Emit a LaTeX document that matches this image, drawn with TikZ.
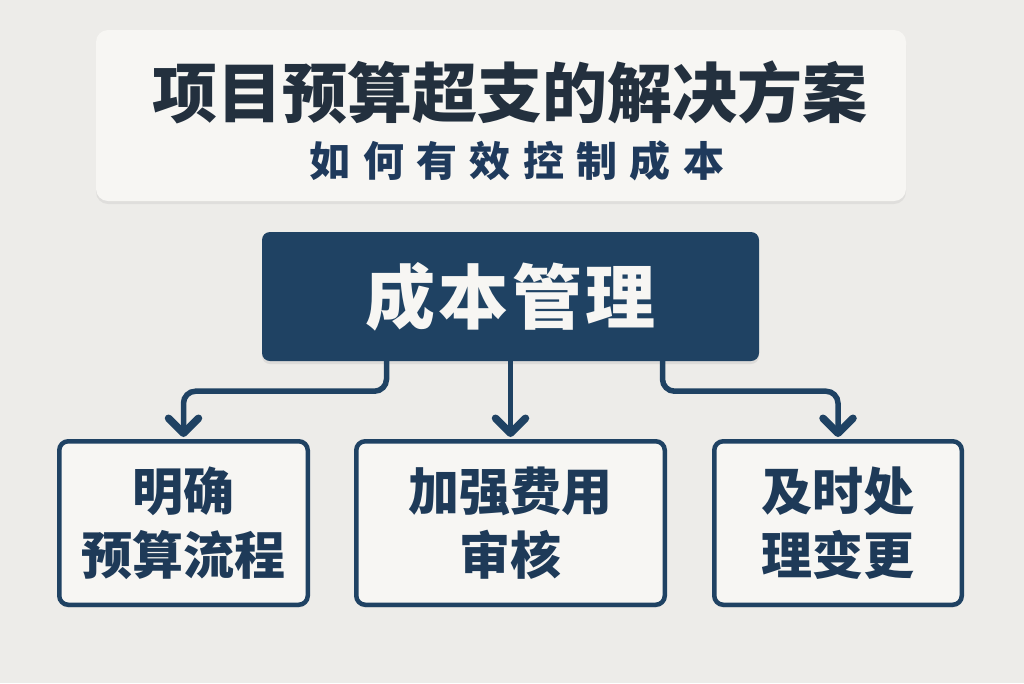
\documentclass[tikz,border=0pt]{standalone}
\usepackage{fontspec}
\setmainfont{Noto Sans CJK SC}
\newfontfamily\cjkspaced[LetterSpace=30]{Noto Sans CJK SC}
\newfontfamily\cjkwide[LetterSpace=5]{Noto Sans CJK SC}
\usetikzlibrary{arrows.meta,shadows}
\definecolor{bgcol}{HTML}{EDECE9}
\definecolor{boxcol}{HTML}{F7F6F3}
\definecolor{navy}{HTML}{1F4263}
\definecolor{titlecol}{HTML}{23303E}
\definecolor{subcol}{HTML}{1F3A5C}
\definecolor{itemcol}{HTML}{1E3A58}
\tikzset{
  titlebox/.style={fill=boxcol, rounded corners=12pt, minimum width=810pt, minimum height=171pt,
    drop shadow={opacity=0.12, shadow xshift=0pt, shadow yshift=-3pt}},
  mainbox/.style={fill=navy, rounded corners=8pt, minimum width=497pt, minimum height=129pt,
    text=boxcol, font=\cjkwide\fontsize{70}{74}\selectfont\bfseries,
    drop shadow={opacity=0.15, shadow xshift=0pt, shadow yshift=-3pt}},
  itembox/.style={fill=boxcol, draw=navy, line width=4.5pt, rounded corners=9pt,
    minimum height=163.5pt, align=center, text=itemcol,
    font=\fontsize{51}{64}\selectfont\bfseries,
    drop shadow={opacity=0.12, shadow xshift=0pt, shadow yshift=-3pt}},
  conn/.style={draw=navy, line width=5.5pt, rounded corners=12pt, line cap=round,
    -{Straight Barb[length=15pt,width=30pt,line width=7.5pt,line cap=round,line join=round]},
    shorten >=2pt},
}
\begin{document}
\begin{tikzpicture}[x=1pt,y=-1pt]
\useasboundingbox [fill=bgcol] (0,0) rectangle (1024,683);
% title
\node [titlebox] (title) at (501,115.5) {};
\node [text=titlecol, font=\fontsize{65}{70}\selectfont\bfseries] (head) at (510,92) {项目预算超支的解决方案};
\node [text=subcol, font=\cjkspaced\fontsize{41}{46}\selectfont\bfseries] (sub) at (517,161) {如何有效控制成本};
% main
\node [mainbox] (main) at (510.5,296.5) {成本管理};
% items
\node [itembox, minimum width=248.5pt] (plan) at (183.5,523) {明确\\预算流程};
\node [itembox, minimum width=308.5pt] (audit) at (510.5,523) {加强费用\\审核};
\node [itembox, minimum width=247.5pt] (change) at (838,523) {及时处\\理变更};
% connectors
\draw [conn] ([xshift=-124pt]main.south) -- ++(0,30) -| (plan.north);
\draw [conn] (main.south) -- (audit.north);
\draw [conn] ([xshift=152pt]main.south) -- ++(0,30) -| (change.north);
\end{tikzpicture}
\end{document}
